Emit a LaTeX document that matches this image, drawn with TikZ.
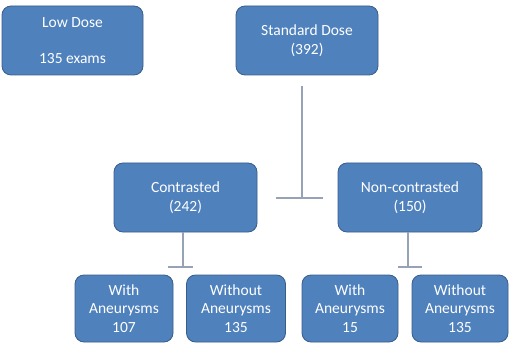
\documentclass[tikz,border=0pt]{standalone}
\usepackage{fontspec}
\setmainfont{Carlito}
\usepackage{tikz}
\usetikzlibrary{calc}
\usepackage{xcolor}
\definecolor{caixaazul}{RGB}{79, 129, 189}
\definecolor{bordaazul}{RGB}{56, 93, 138}
\definecolor{linhacinza}{RGB}{150, 162, 182}

\begin{document}
\begin{tikzpicture}[
    x=1pt,
    y=1pt,
    caixa/.style={
        fill=caixaazul,
        draw=bordaazul,
        line width=0.8pt,
        rounded corners=9pt,
        text=white,
        minimum height=69pt,
        font=\fontsize{15.5}{18.5}\selectfont,
        align=center,
        inner sep=0pt
    },
    folha/.style={
        caixa,
        minimum height=67pt
    },
    ligacao/.style={
        draw=linhacinza,
        line width=1.3pt
    }
]

\useasboundingbox (0,0) rectangle (510,-344);

% ---------------- Topo ----------------

\node[
    caixa,
    minimum width=141pt
] (lowdose) at (72.5,-40.5)
{Low Dose\\[17pt]135 exams};

\node[
    caixa,
    minimum width=142pt
] (stddose) at (307,-40.5)
{Standard Dose\\(392)};

% ---------------- Meio ----------------

\node[
    caixa,
    minimum width=143pt
] (contrast) at (185.5,-197.5)
{Contrasted\\(242)};

\node[
    caixa,
    minimum width=144pt
] (noncontrast) at (410,-197.5)
{Non-contrasted\\(150)};

% ---------------- Base ----------------

\node[
    folha,
    minimum width=98pt
] (withc) at (124,-308.5)
{With\\Aneurysms\\107};

\node[
    folha,
    minimum width=99pt
] (withoutc) at (236,-308.5)
{Without\\Aneurysms\\135};

\node[
    folha,
    minimum width=96pt
] (withn) at (350,-308.5)
{With\\Aneurysms\\15};

\node[
    folha,
    minimum width=96pt
] (withoutn) at (460,-308.5)
{Without\\Aneurysms\\135};

% ---------------- Ligacoes ----------------

\coordinate (ramo1) at (302,-198);
\coordinate (ramo2) at (183,-267);
\coordinate (ramo3) at (408,-267);

\draw[ligacao] ($(stddose.south)+(-5,-11)$) -- (ramo1);
\draw[ligacao] ($(ramo1)+(-26,0)$) -- ($(ramo1)+(21,0)$);

\draw[ligacao] (contrast.south -| ramo2) -- (ramo2);
\draw[ligacao] ($(ramo2)+(-15,0)$) -- ($(ramo2)+(10,0)$);

\draw[ligacao] (noncontrast.south -| ramo3) -- (ramo3);
\draw[ligacao] ($(ramo3)+(-10,0)$) -- ($(ramo3)+(14,0)$);

\end{tikzpicture}
\end{document}
